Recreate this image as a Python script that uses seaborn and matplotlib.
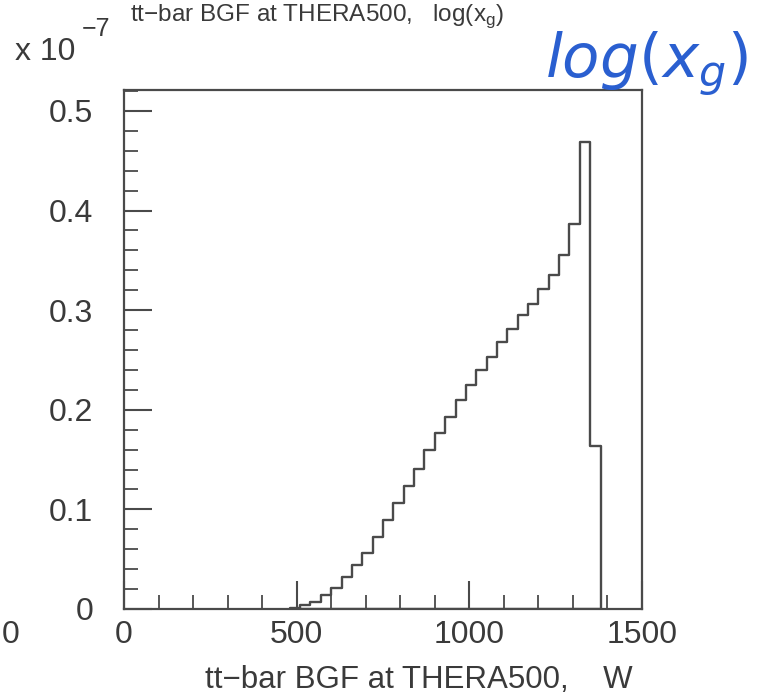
import matplotlib
matplotlib.use("Agg")
import matplotlib.pyplot as plt
import seaborn as sns
import numpy as np
import pandas as pd
from matplotlib.ticker import MultipleLocator, FixedLocator

# ---- data (values in units of 1e-7) ----
bin_lo = [480, 510, 540, 570, 600, 630, 660, 690, 720, 750,
          780, 810, 840, 870, 900, 930, 960, 990, 1020, 1050,
          1080, 1110, 1140, 1170, 1200, 1230, 1260, 1290, 1320, 1350]
bin_width = 30
values = [0.001, 0.004, 0.007, 0.014, 0.021, 0.032, 0.044, 0.056, 0.072, 0.089,
          0.106, 0.123, 0.141, 0.160, 0.177, 0.193, 0.210, 0.225, 0.240, 0.253,
          0.268, 0.281, 0.295, 0.306, 0.321, 0.335, 0.355, 0.386, 0.469, 0.164]
xticks = [0, 500, 1000, 1500]
xticklabels = ["0", "500", "1000", "1500"]
yticks = [0, 0.1, 0.2, 0.3, 0.4, 0.5]
yticklabels = ["0", "0.1", "0.2", "0.3", "0.4", "0.5"]
title_txt = "tt\u2212bar BGF at THERA500,   log(x$_\\mathregular{g}$)"
xlabel_txt = "tt\u2212bar BGF at THERA500,    W"

sns.set_style("white")
plt.rcParams['font.family'] = ['Liberation Sans', 'DejaVu Sans']

W, H = 776, 698
fig = plt.figure(figsize=(W / 100, H / 100), dpi=100)
ax = fig.add_axes([124 / W, 1 - 609 / H, (642 - 124) / W, (609 - 90) / H])

df = pd.DataFrame({"W": [lo + bin_width / 2 for lo in bin_lo], "val": values})
edges = bin_lo + [bin_lo[-1] + bin_width]
line_col = "#4a4a4a"
sns.histplot(data=df, x="W", weights="val", bins=edges, element="step",
             fill=True, color=line_col, facecolor="none", edgecolor=line_col,
             linewidth=1.7, ax=ax)

ax.set_xlim(0, 1500)
ax.set_ylim(0, 0.521)
ax.xaxis.set_major_locator(FixedLocator(xticks))
ax.set_xticklabels(xticklabels)
ax.xaxis.set_minor_locator(MultipleLocator(100))
ax.yaxis.set_major_locator(FixedLocator(yticks))
ax.set_yticklabels(yticklabels)
ax.yaxis.set_minor_locator(MultipleLocator(0.02))
ax.set_xlabel("")
ax.set_ylabel("")

for s in ax.spines.values():
    s.set_color(line_col)
    s.set_linewidth(1.6)
    s.set_visible(True)

ax.tick_params(axis="both", which="both", direction="in", color=line_col,
               bottom=True, left=True, top=False, right=False,
               labelcolor="#3a3a3a")
ax.tick_params(axis="both", which="major", length=20, width=1.5, labelsize=23)
ax.tick_params(axis="both", which="minor", length=10, width=1.3)
ax.tick_params(axis="y", which="major", pad=22)
ax.tick_params(axis="x", which="major", pad=8)

# texts
fig.text(130 / W, 1 - 16 / H, title_txt, fontsize=17.5, color="#3a3a3a",
         ha="left", va="center")
fig.text(15 / W, 1 - 52 / H, "x 10", fontsize=23, color="#3a3a3a",
         ha="left", va="center")
fig.text(82 / W, 1 - 29 / H, "\u22127", fontsize=18, color="#3a3a3a",
         ha="left", va="center")
fig.text(205 / W, 1 - 680 / H, xlabel_txt, fontsize=22.5, color="#3a3a3a",
         ha="left", va="center")
fig.text(2 / W, 1 - 635 / H, "0", fontsize=23, color="#3a3a3a",
         ha="left", va="center")
fig.text(545 / W, 1 - 64 / H, "$\\mathit{log}(x_g)$", fontsize=44,
         color="#2a5fd0", ha="left", va="center", family="DejaVu Serif")

fig.savefig("out.png", dpi=100, facecolor="white")
